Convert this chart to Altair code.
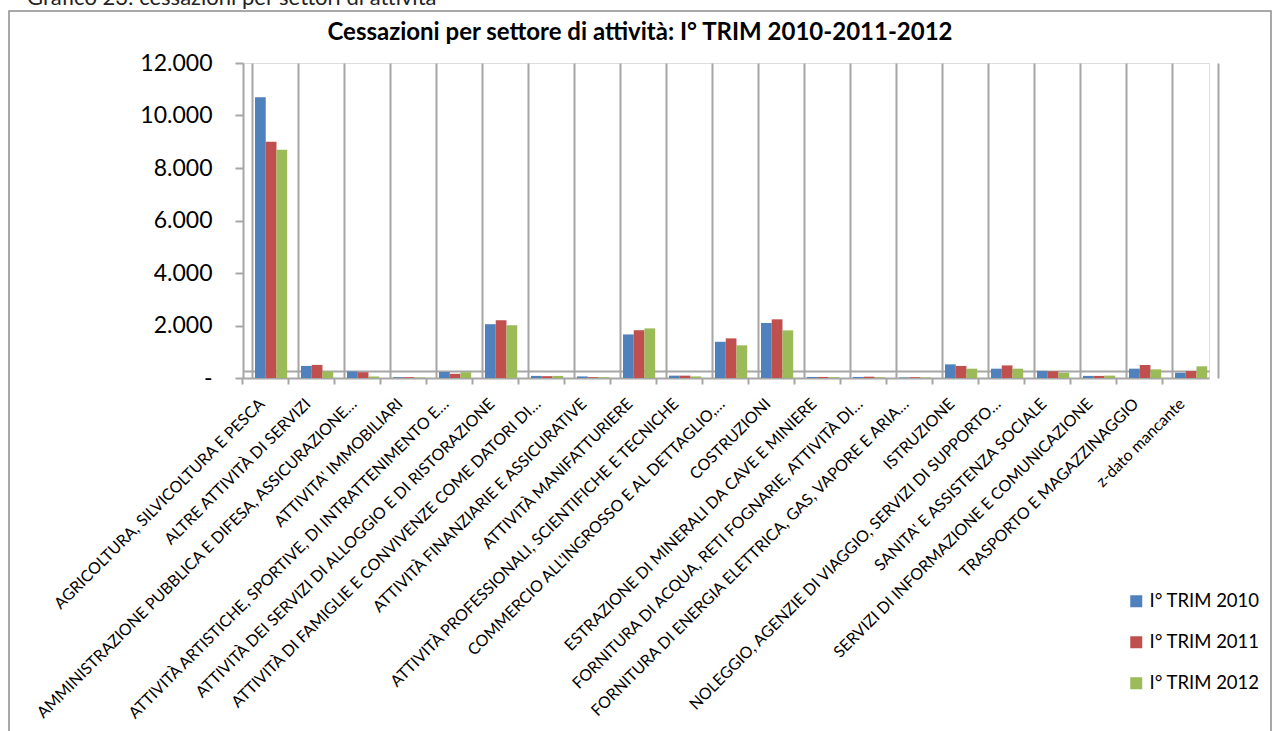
import altair as alt
import pandas as pd

categories = [
    "AGRICOLTURA, SILVICOLTURA E PESCA",
    "ALTRE ATTIVITÀ DI SERVIZI",
    "AMMINISTRAZIONE PUBBLICA E DIFESA, ASSICURAZIONE…",
    "ATTIVITA' IMMOBILIARI",
    "ATTIVITÀ ARTISTICHE, SPORTIVE, DI INTRATTENIMENTO E…",
    "ATTIVITÀ DEI SERVIZI DI ALLOGGIO E DI RISTORAZIONE",
    "ATTIVITÀ DI FAMIGLIE E CONVIVENZE COME DATORI DI…",
    "ATTIVITÀ FINANZIARIE E ASSICURATIVE",
    "ATTIVITÀ MANIFATTURIERE",
    "ATTIVITÀ PROFESSIONALI, SCIENTIFICHE E TECNICHE",
    "COMMERCIO ALL'INGROSSO E AL DETTAGLIO,…",
    "COSTRUZIONI",
    "ESTRAZIONE DI MINERALI DA CAVE E MINIERE",
    "FORNITURA DI ACQUA, RETI FOGNARIE, ATTIVITÀ DI…",
    "FORNITURA DI ENERGIA ELETTRICA, GAS, VAPORE E ARIA…",
    "ISTRUZIONE",
    "NOLEGGIO, AGENZIE DI VIAGGIO, SERVIZI DI SUPPORTO…",
    "SANITA' E ASSISTENZA SOCIALE",
    "SERVIZI DI INFORMAZIONE E COMUNICAZIONE",
    "TRASPORTO E MAGAZZINAGGIO",
    "z-dato mancante",
]

series = ["I° TRIM 2010", "I° TRIM 2011", "I° TRIM 2012"]

v2010 = [10700, 460, 250, 30, 230, 2050, 80, 60, 1660, 90, 1380, 2095, 40, 40, 20, 520, 355, 270, 80, 355, 200]
v2011 = [9000, 500, 220, 30, 160, 2200, 70, 30, 1820, 90, 1510, 2235, 40, 50, 30, 460, 480, 255, 80, 495, 265]
v2012 = [8700, 250, 60, 20, 220, 2010, 80, 30, 1890, 60, 1245, 1815, 30, 30, 20, 355, 355, 200, 90, 330, 445]

colors = ["#4F81BD", "#C0504D", "#9BBB59"]
y_ticks = [0, 2000, 4000, 6000, 8000, 10000, 12000]

title_text = "Cessazioni per settore di attività: I° TRIM 2010-2011-2012"
caption_text = "Grafico 23: cessazioni per settori di attività"

rows = []
for s, vals in zip(series, [v2010, v2011, v2012]):
    for c, v in zip(categories, vals):
        rows.append({"settore": c, "serie": s, "valore": v})
df = pd.DataFrame(rows)

FONT = "Lato"
GRAY = "#A6A6A6"

xscale = alt.Scale(paddingInner=0.3, paddingOuter=0.15, align=0.87)
yscale = alt.Scale(domain=[0, 12000], nice=False)

bars = alt.Chart(df).mark_bar().encode(
    x=alt.X(
        "settore:N", sort=categories, scale=xscale, title=None,
        axis=alt.Axis(
            orient="bottom",
            bandPosition=-0.373, labelOffset=-9, labelAngle=315,
            labelAlign="right", labelBaseline="middle", labelPadding=17,
            labelFontSize=16, labelFont=FONT, labelColor="#000000",
            labelLimit=600, labelOverlap=False,
            tickSize=6, tickColor=GRAY, tickWidth=2,
            domainColor=GRAY, domainWidth=2, grid=False,
        ),
    ),
    xOffset=alt.XOffset("serie:N", sort=series),
    y=alt.Y(
        "valore:Q", scale=yscale, title=None,
        axis=alt.Axis(
            orient="left",
            values=y_ticks, grid=False, labelFontSize=23, labelFont=FONT,
            labelColor="#000000", labelPadding=23, tickSize=8,
            tickColor=GRAY, tickWidth=2, domainColor=GRAY, domainWidth=2,
            labelExpr="datum.value === 0 ? '-\u00a0\u00a0\u00a0' : replace(format(datum.value, ','), ',', '.')",
        ),
    ),
    color=alt.Color(
        "serie:N", sort=series,
        scale=alt.Scale(domain=series, range=colors),
        legend=alt.Legend(
            title=None, orient="none", legendX=884, legendY=529,
            symbolType="square", symbolSize=144, symbolStrokeWidth=0,
            labelFontSize=18.5, labelFont=FONT, labelColor="#000000",
            rowPadding=22, labelOffset=4,
        ),
    ),
)

walls = alt.Chart(df).mark_bar(opacity=0).encode(
    x=alt.X(
        "settore:N", sort=categories, scale=xscale, title=None,
        axis=alt.Axis(
            orient="bottom",
            bandPosition=-0.093, labels=False, ticks=False, grid=True,
            gridColor=GRAY, gridWidth=2, domain=True, domainColor=GRAY,
            domainWidth=2, offset=-7,
        ),
    ),
    y=alt.Y(
        "valore:Q", scale=yscale, title=None,
        axis=alt.Axis(
            orient="right", labels=False, ticks=False, grid=False,
            domainColor=GRAY, domainWidth=2, offset=9,
        ),
    ),
)

one = pd.DataFrame({"k": [0]})
frame = alt.Chart(one).mark_rect(fill="transparent", stroke="#8C8C8C", strokeWidth=1.5).encode(
    x=alt.value(9 - 243), x2=alt.value(1271 - 243),
    y=alt.value(11 - 63), y2=alt.value(760 - 63),
)
caption = alt.Chart(one).mark_text(
    text=caption_text, align="left", baseline="alphabetic",
    fontSize=22, font=FONT, color="#222222",
).encode(x=alt.value(27 - 243), y=alt.value(5 - 63))
title = alt.Chart(one).mark_text(
    text=title_text, align="center", baseline="alphabetic",
    fontSize=24, font=FONT, fontWeight="bold", color="#000000",
).encode(x=alt.value(640 - 243), y=alt.value(40 - 63))

chart = (
    alt.layer(frame, caption, title, bars, walls)
    .resolve_axis(x="independent", y="independent")
    .properties(
        width=966, height=315,
        autosize=alt.AutoSizeParams(type="none"),
        padding={"left": 243, "top": 63, "right": 65, "bottom": 353},
    )
    .configure_view(strokeWidth=0)
    .configure(background="white")
)

chart.save("out.html", embed_options={"renderer": "svg", "actions": False})
